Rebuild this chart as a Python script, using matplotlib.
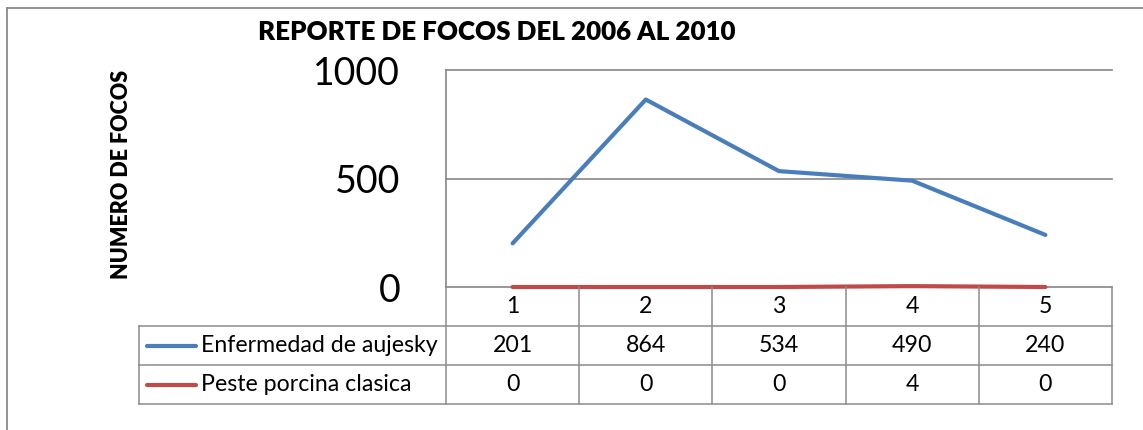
import matplotlib
matplotlib.use("Agg")
import matplotlib.pyplot as plt
from matplotlib.lines import Line2D

plt.rcParams['font.family'] = ['Lato', 'DejaVu Sans']

# ---- data ----
categories = ["1", "2", "3", "4", "5"]
series_names = ["Enfermedad de aujesky", "Peste porcina clasica"]
aujesky = [201, 864, 534, 490, 240]
peste = [0, 0, 0, 4, 0]
yticks = [0, 500, 1000]
title = "REPORTE DE FOCOS DEL 2006 AL 2010"
ylabel = "NUMERO DE FOCOS"

W, H = 1143, 430
fig = plt.figure(figsize=(W / 100, H / 100), dpi=100)

def fx(px):
    return px / W

def fy(py):
    return 1 - py / H

# plot area in pixel coordinates
L, R, T, B = 446, 1112, 70, 287
ax = fig.add_axes([fx(L), fy(B), fx(R) - fx(L), fy(T) - fy(B)])

blue = "#4A7EBB"
red = "#BE4B48"
grid = "#868686"

x = list(range(1, len(categories) + 1))
ax.plot(x, aujesky, color=blue, lw=3.0, solid_capstyle="round", zorder=3)
ax.plot(x, peste, color=red, lw=3.0, solid_capstyle="round", zorder=4, clip_on=False)

ax.set_xlim(0.5, len(categories) + 0.5)
ax.set_ylim(0, 1000)
ax.set_yticks(yticks)
ax.set_yticklabels([str(v) for v in yticks], fontsize=27)
ax.tick_params(axis="y", length=0, pad=33)
ax.set_xticks([])
for v in yticks[1:]:
    ax.axhline(v, color=grid, lw=1.2, zorder=1, clip_on=False)
for s in ["top", "right"]:
    ax.spines[s].set_visible(False)
ax.spines["left"].set_color(grid)
ax.spines["bottom"].set_color(grid)
ax.spines["left"].set_linewidth(1.2)
ax.spines["bottom"].set_linewidth(1.2)

# title and y label
fig.text(fx(497), fy(32), title, fontsize=18.7, fontweight="heavy", ha="center", va="center")
fig.text(fx(122), fy(174), ylabel, fontsize=15.5, fontweight="heavy", rotation=90,
         ha="center", va="center")

# ---- data table ----
tcol = "#8C8C8C"
LEG_L = 139
rows = [287, 326, 365, 404]
ncol = len(categories)
colw = (R - L) / ncol
colx = [L + i * colw for i in range(ncol + 1)]

def hline(y, x0, x1):
    fig.add_artist(Line2D([fx(x0), fx(x1)], [fy(y), fy(y)], color=tcol, lw=1.1))

def vline(xp, y0, y1):
    fig.add_artist(Line2D([fx(xp), fx(xp)], [fy(y0), fy(y1)], color=tcol, lw=1.1))

for y in rows[1:]:
    hline(y, LEG_L, R)
vline(LEG_L, rows[1], rows[3])
for xp in colx:
    vline(xp, rows[0], rows[3])

tfs = 16.7
for i, c in enumerate(categories):
    cx = L + (i + 0.5) * colw
    fig.text(fx(cx), fy((rows[0] + rows[1]) / 2), c, fontsize=tfs, ha="center", va="center")
    fig.text(fx(cx), fy((rows[1] + rows[2]) / 2), str(aujesky[i]), fontsize=tfs,
             ha="center", va="center")
    fig.text(fx(cx), fy((rows[2] + rows[3]) / 2), str(peste[i]), fontsize=tfs,
             ha="center", va="center")

for k, (name, col) in enumerate(zip(series_names, [blue, red])):
    yc = (rows[1 + k] + rows[2 + k]) / 2
    fig.add_artist(Line2D([fx(147), fx(196)], [fy(yc), fy(yc)], color=col, lw=3.0,
                          solid_capstyle="round"))
    fig.text(fx(201), fy(yc), name, fontsize=tfs, ha="left", va="center")

# outer chart frame (top and left visible)
frame = "#8A8A8A"
fig.add_artist(Line2D([fx(7), fx(W)], [fy(8), fy(8)], color=frame, lw=1.3))
fig.add_artist(Line2D([fx(7), fx(7)], [fy(8), fy(H)], color=frame, lw=1.3))

fig.savefig("out.png", dpi=100)
